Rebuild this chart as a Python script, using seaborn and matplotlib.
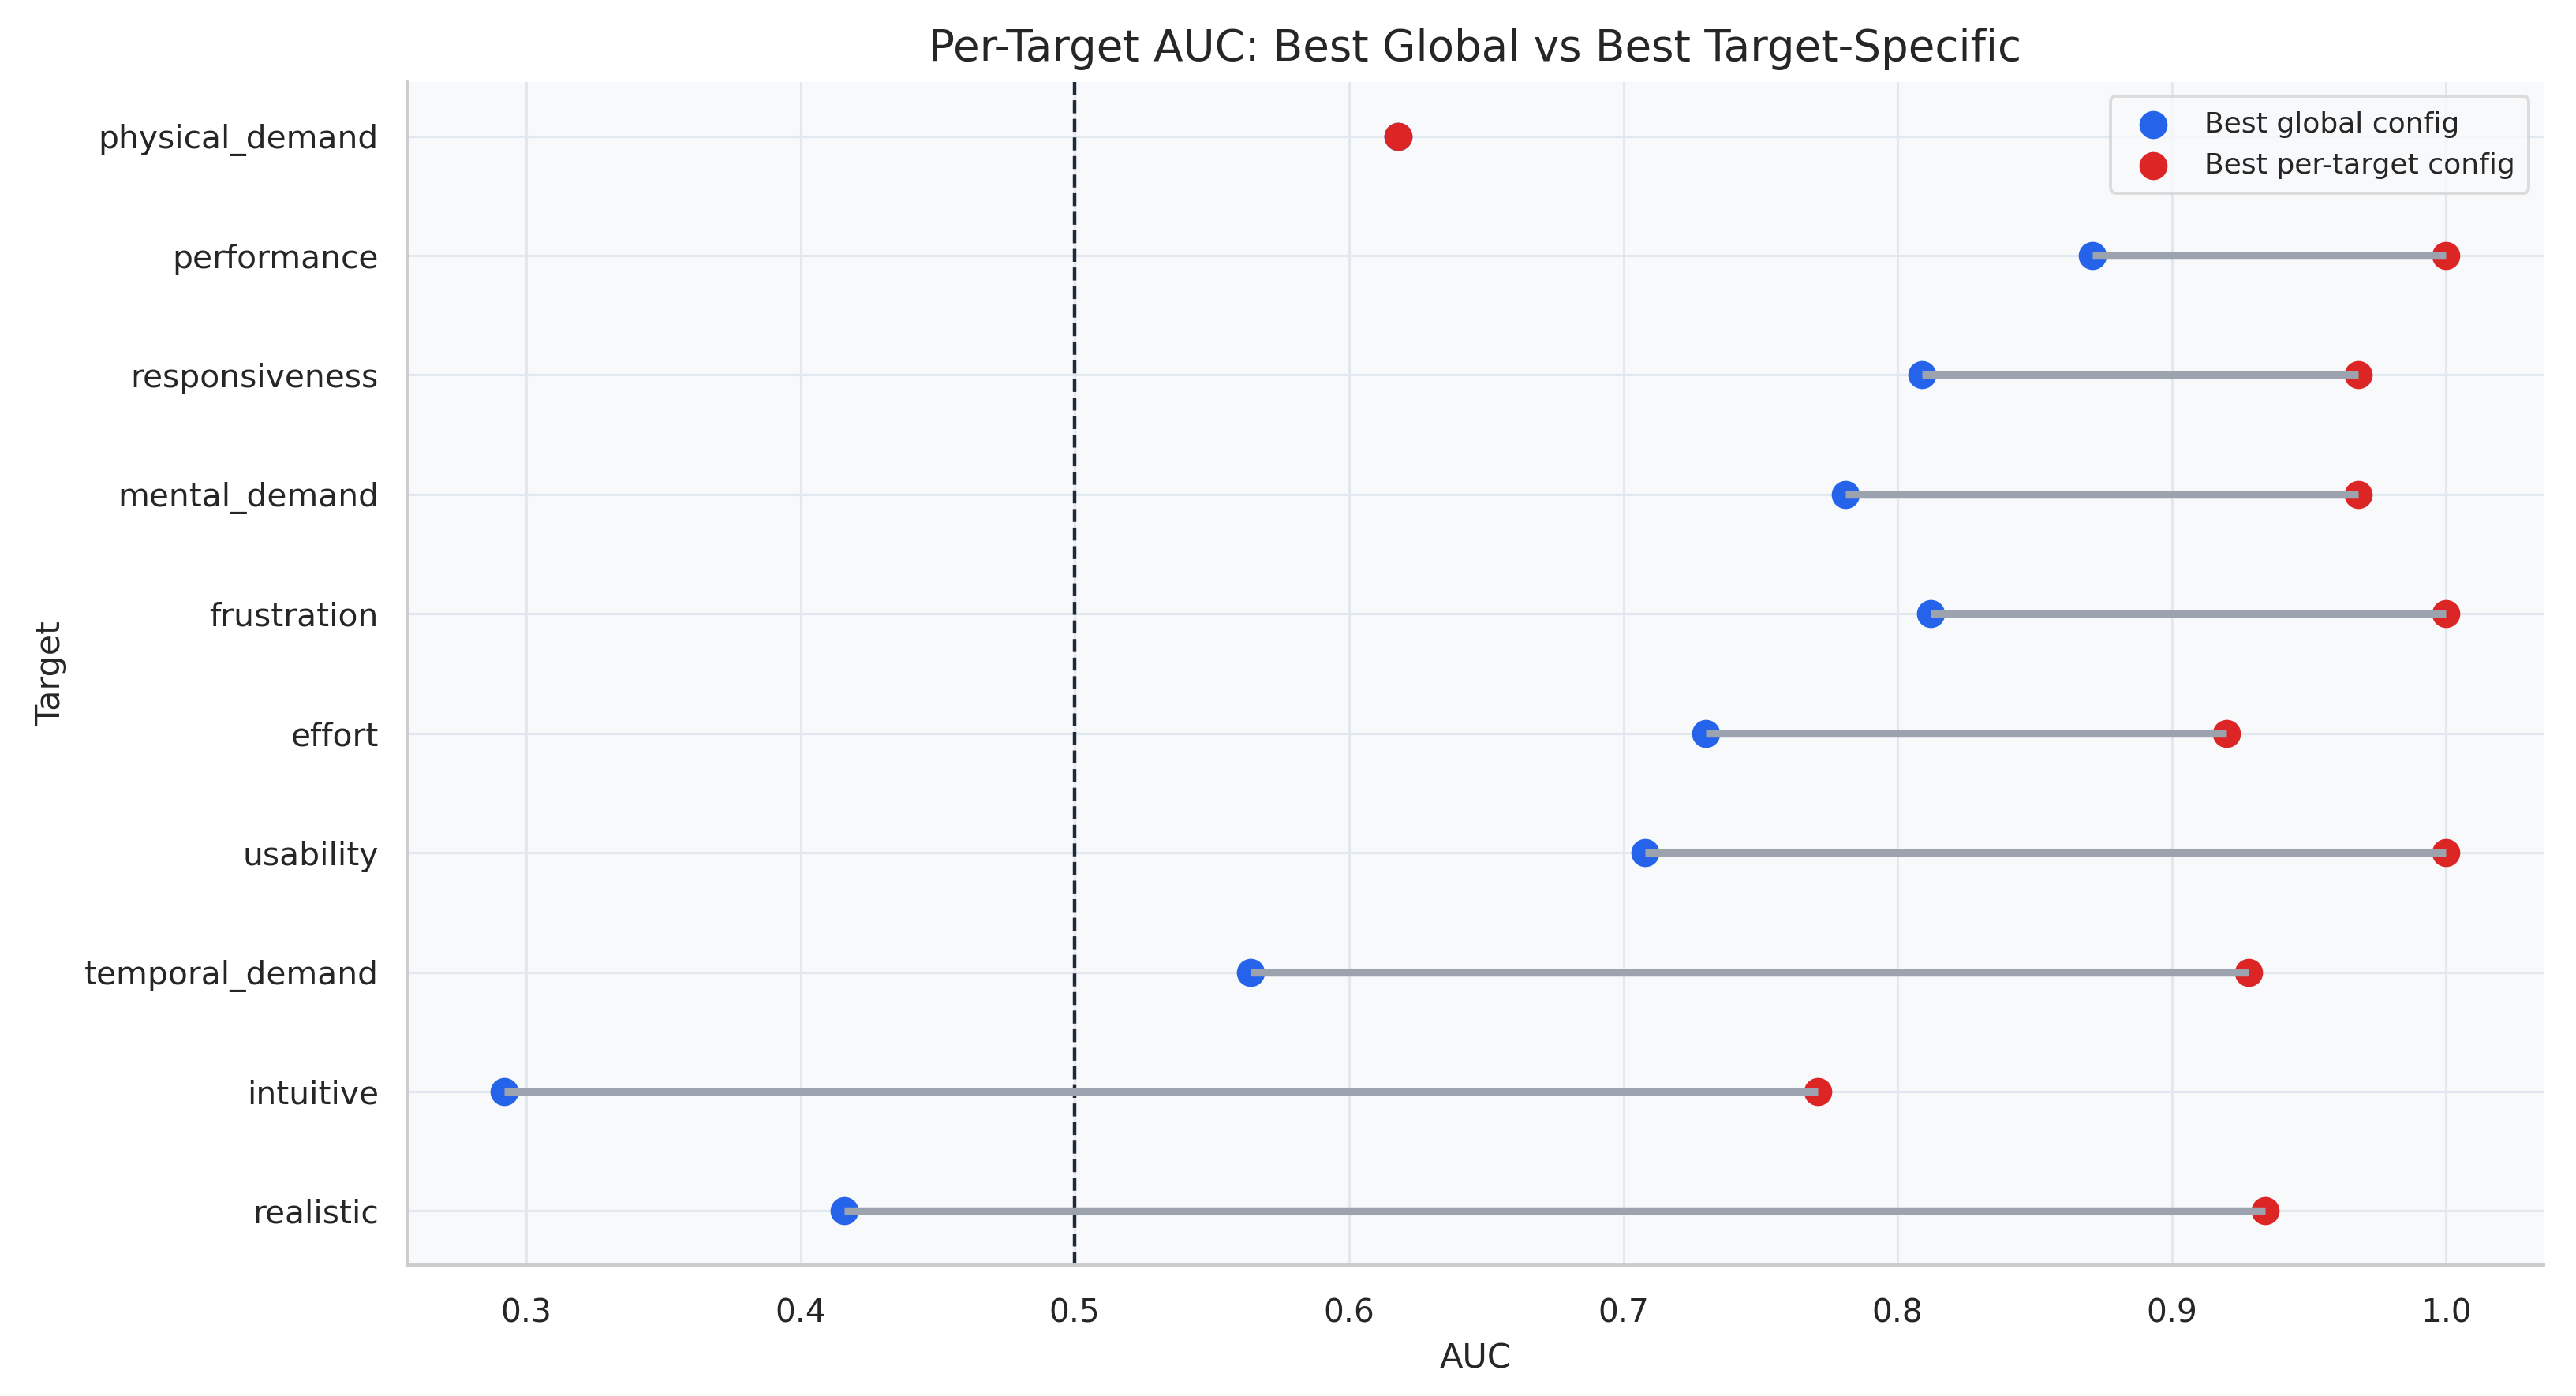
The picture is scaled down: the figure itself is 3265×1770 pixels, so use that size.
import matplotlib
matplotlib.use("Agg")
import matplotlib.pyplot as plt
import pandas as pd
import seaborn as sns

# targets listed top -> bottom (sorted by gap between the two configs)
TARGETS = [
    "physical_demand",
    "performance",
    "responsiveness",
    "mental_demand",
    "frustration",
    "effort",
    "usability",
    "temporal_demand",
    "intuitive",
    "realistic",
]
GLOBAL_AUC = [0.618, 0.871, 0.809, 0.781, 0.812, 0.730, 0.708, 0.564, 0.292, 0.416]
TARGET_AUC = [0.618, 1.000, 0.968, 0.968, 1.000, 0.920, 1.000, 0.928, 0.771, 0.934]

BLUE = "#2563eb"
RED = "#dc2626"
GREY = "#9ca3af"

sns.set_theme(style="whitegrid")
plt.rcParams.update({
    "font.family": ["DejaVu Sans"],
    "axes.facecolor": "#f8f9fb",
    "grid.color": "#e2e8f0",
    "grid.linewidth": 1.1,
    "axes.edgecolor": "#cccccc",
    "axes.linewidth": 1.4,
    "text.color": "#262626",
    "axes.labelcolor": "#262626",
    "xtick.color": "#262626",
    "ytick.color": "#262626",
})

df = pd.DataFrame({"target": TARGETS, "global": GLOBAL_AUC, "specific": TARGET_AUC})

fig, ax = plt.subplots(figsize=(16.33, 8.85), dpi=200)

sns.scatterplot(data=df, x="global", y="target", ax=ax, color=BLUE, s=165,
                linewidth=0, label="Best global config", zorder=3)
sns.scatterplot(data=df, x="specific", y="target", ax=ax, color=RED, s=165,
                linewidth=0, label="Best per-target config", zorder=3)
ax.hlines(df["target"], df["global"], df["specific"], color=GREY, linewidth=3.4, zorder=4)

ax.axvline(0.5, color="#1e293b", linestyle="--", linewidth=1.6, zorder=2)

ax.set_title("Per-Target AUC: Best Global vs Best Target-Specific", fontsize=19.7, pad=10)
ax.set_xlabel("AUC", fontsize=15.5, labelpad=6)
ax.set_ylabel("Target", fontsize=15.5, labelpad=8)
ax.tick_params(axis="both", labelsize=14.7, length=0)
ax.tick_params(axis="x", pad=15)
ax.tick_params(axis="y", pad=13)
ax.set_xticks([0.3, 0.4, 0.5, 0.6, 0.7, 0.8, 0.9, 1.0])

leg = ax.legend(loc="upper right", fontsize=13, frameon=True, markerscale=1.0,
                handletextpad=0.8, borderpad=0.5)
leg.get_frame().set_edgecolor("#d4d4d4")
leg.get_frame().set_linewidth(1.4)
leg.get_frame().set_facecolor("#f8f9fb")

sns.despine(ax=ax)
fig.subplots_adjust(left=0.158, right=0.987, top=0.941, bottom=0.094)
fig.savefig("out.png", dpi=200)
